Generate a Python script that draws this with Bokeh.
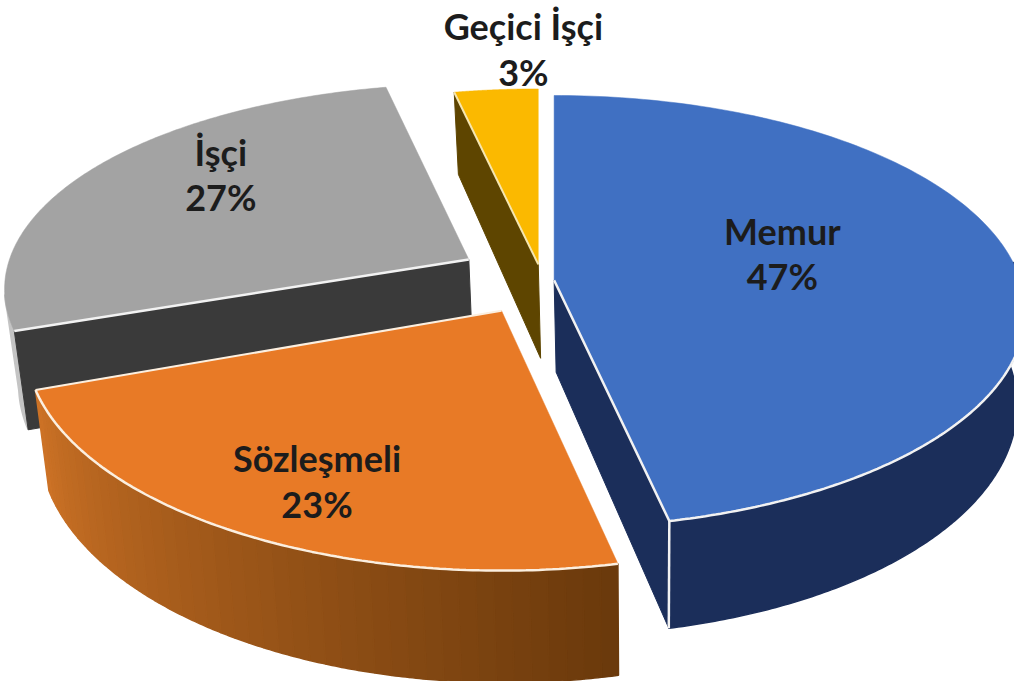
import numpy as np
from bokeh.plotting import figure
from bokeh.models import Range1d
from bokeh.core.properties import value
from bokeh.embed import file_html
from bokeh.resources import INLINE

# ---- data
categories = ["Memur", "Sözleşmeli", "İşçi", "Geçici İşçi"]
shares = [46.6, 22.9, 27.2, 3.3]
top_colors = ["#4070C2", "#E87A26", "#A3A3A3", "#FBB900"]
wall_dark = ["#1B2E5A", "#6B3A0C", "#3A3A3A", "#5E4500"]
wall_light = ["#1B2E5A", "#CC7226", "#C4C4C4", "#5E4500"]

# ---- layout
W, H = 1014, 681
REF_W, REF_H = 1022, 689
apex = {"Memur": (558, 283), "Sözleşmeli": (505, 314), "İşçi": (472, 262), "Geçici İşçi": (542, 267)}
depth_scale = {"Memur": 1.0, "Sözleşmeli": 1.05, "İşçi": 0.95, "Geçici İşçi": 0.95}
width_scale = {"Memur": 1.0, "Sözleşmeli": 1.01, "İşçi": 0.985, "Geçici İşçi": 1.0}
thick_scale = {"Memur": 0.98, "Sözleşmeli": 1.02, "İşçi": 1.0, "Geçici İşçi": 1.0}
label_xy = {"Memur": (788, 233), "Sözleşmeli": (319, 463), "İşçi": (222, 153), "Geçici İşçi": (527, 26)}
label_gap = 46
RX, RY, PERSP, THICK = 470.0, 214.0, 0.145, 95.0
VANISH_X, VANISH_F = 650.0, 0.022

edges = np.concatenate([[0], np.cumsum(shares)]) / sum(shares) * 360
span = {c: (edges[i], edges[i + 1]) for i, c in enumerate(categories)}


def project(cat, theta, r=1.0, low=False):
    t = np.radians(theta)
    ax, ay = apex[cat]
    w = 1 + PERSP * r * np.cos(t)
    x = ax + RX * width_scale[cat] * r * np.sin(t) / w
    y = ay - RY * depth_scale[cat] * r * np.cos(t) / w
    if low:
        return x + (VANISH_X - x) * VANISH_F, y + THICK * thick_scale[cat] / w
    return x, y


def arc(cat, a, b, n=80, low=False):
    th = np.linspace(a, b, n)
    return project(cat, th, 1.0, low)


p = figure(width=W, height=H, x_range=Range1d(0, REF_W), y_range=Range1d(REF_H, 0),
           output_backend="svg", toolbar_location=None, min_border=0,
           outline_line_color=None, background_fill_color="white", border_fill_color="white")
p.axis.visible = False
p.grid.visible = False


def radial_wall(cat, theta, color):
    x0, y0 = project(cat, theta, 0.0)
    x1, y1 = project(cat, theta, 1.0)
    x2, y2 = project(cat, theta, 1.0, True)
    x3, y3 = project(cat, theta, 0.0, True)
    p.patch([x0, x1, x2, x3], [y0, y1, y2, y3], fill_color=color, line_color=color)


def outer_wall(cat, a, b, c0, c1, n=40):
    th = np.linspace(a, b, n + 1)
    c0 = np.array([int(c0[i:i + 2], 16) for i in (1, 3, 5)], float)
    c1 = np.array([int(c1[i:i + 2], 16) for i in (1, 3, 5)], float)
    pts = max(6, 160 // n)
    for i in range(n):
        f = i / max(n - 1, 1)
        col = "#%02x%02x%02x" % tuple(int(v) for v in (c0 + (c1 - c0) * f))
        tx, ty = arc(cat, th[i], th[i + 1], pts)
        bx, by = arc(cat, th[i + 1], th[i], pts, True)
        p.patch(list(tx) + list(bx), list(ty) + list(by), fill_color=col, line_color=col, line_width=1.5)


def top_face(cat, color):
    a, b = span[cat]
    x0, y0 = project(cat, a, 0.0)
    xs, ys = arc(cat, a, b, 160)
    p.patch([x0] + list(xs), [y0] + list(ys), fill_color=color, line_color=color, line_width=0.5)


EDGE = "#F2F2F2"
# İşçi
c = "İşçi"; i = categories.index(c); a, b = span[c]
outer_wall(c, a, a + 10, wall_light[i], wall_light[i], 1)
radial_wall(c, a, wall_dark[i])
top_face(c, top_colors[i])
x0, y0 = project(c, a, 0.0); x1, y1 = project(c, a, 1.0)
p.line([x0, x1], [y0, y1], line_color=EDGE, line_width=2.5)

# Geçici İşçi
c = "Geçici İşçi"; i = categories.index(c); a, b = span[c]
radial_wall(c, a, wall_dark[i])
top_face(c, top_colors[i])
x0, y0 = project(c, a, 0.0); x1, y1 = project(c, a, 1.0)
p.line([x0, x1], [y0, y1], line_color="#F5E6B0", line_width=2)

# Sözleşmeli
c = "Sözleşmeli"; i = categories.index(c); a, b = span[c]
outer_wall(c, a, b, wall_dark[i], wall_light[i], 44)
top_face(c, top_colors[i])
xs, ys = arc(c, a, b, 120)
p.line(xs, ys, line_color="#FBEFE0", line_width=2.5)
x0, y0 = project(c, b, 0.0); x1, y1 = project(c, b, 1.0)
p.line([x0, x1], [y0, y1], line_color="#FBEFE0", line_width=2)

# Memur
c = "Memur"; i = categories.index(c); a, b = span[c]
radial_wall(c, b, wall_dark[i])
outer_wall(c, 85, b, wall_light[i], wall_dark[i], 1)
top_face(c, top_colors[i])
xs, ys = arc(c, 100, b, 120)
x0, y0 = project(c, b, 0.0)
p.line(list(xs) + [x0], list(ys) + [y0], line_color=EDGE, line_width=2.5)
x1, y1 = project(c, b, 1.0); x2, y2 = project(c, b, 1.0, True)
p.line([x1, x2], [y1, y2], line_color=EDGE, line_width=2.5)

# Labels
for cat, v in zip(categories, shares):
    lx, ly = label_xy[cat]
    p.text([lx, lx], [ly, ly + label_gap], text=[cat, f"{round(v)}%"],
           text_font=value("Lato"), text_font_style="bold", text_font_size="36px",
           text_align="center", text_baseline="middle", text_color="#1C1C1C")

open("out.html", "w").write(file_html(p, INLINE))
